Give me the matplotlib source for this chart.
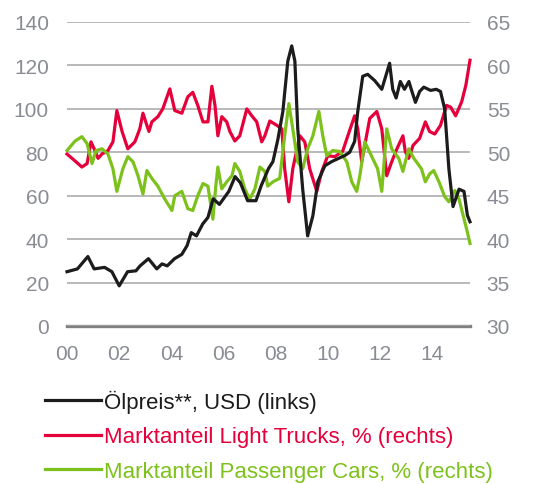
import matplotlib
matplotlib.use("Agg")
import matplotlib.pyplot as plt
import numpy as np

# ---- data (years since Jan 2000) ----
oil_t = [0, 0.40, 0.80, 1.04, 1.44, 1.72, 2.00, 2.32, 2.64, 2.80,
         3.12, 3.44, 3.64, 3.84, 4.12, 4.40, 4.60, 4.76, 4.96, 5.20,
         5.40, 5.60, 5.84, 6.20, 6.44, 6.64, 6.92, 7.24, 7.44, 7.72,
         7.89, 8.08, 8.27, 8.46, 8.61, 8.73, 8.84, 9.03, 9.22, 9.42,
         9.61, 9.88, 10.14, 10.37, 10.64, 10.83, 11.02, 11.14, 11.33, 11.52,
         11.79, 12.06, 12.36, 12.48, 12.61, 12.77, 12.93, 13.10, 13.19, 13.35,
         13.51, 13.67, 13.93, 14.15, 14.31, 14.47, 14.63, 14.79, 15.02, 15.21,
         15.34, 15.44]
oil = [25, 26.3, 32, 26.3, 27, 25, 18.5, 25, 25.4, 27.7,
       31, 26.3, 28.6, 27.7, 31, 33, 37, 43, 41.5, 47,
       50, 58.6, 56, 62, 68.8, 66, 57.7, 57.7, 64.6, 72.5,
       75.7, 86, 98.8, 122, 129, 122, 91, 63, 41.5, 50.8,
       66.5, 73.8, 75.7, 77, 78.5, 80, 85, 98.8, 115, 115.9,
       113, 109, 121, 109, 105, 112.6, 109, 112.6, 109, 103,
       108, 110, 108.5, 109, 108, 100, 72.5, 55, 63, 62,
       51, 48]

truck_t = [0.0, 0.31, 0.57, 0.77, 0.92, 1.07, 1.19, 1.34, 1.57, 1.76,
           1.91, 2.11, 2.33, 2.60, 2.79, 2.91, 3.06, 3.14, 3.25, 3.48,
           3.67, 3.94, 4.13, 4.40, 4.63, 4.82, 5.01, 5.21, 5.40, 5.55,
           5.67, 5.78, 5.93, 6.12, 6.24, 6.43, 6.62, 6.89, 7.08, 7.27,
           7.46, 7.58, 7.77, 8.04, 8.23, 8.34, 8.50, 8.65, 8.92, 9.11,
           9.30, 9.57, 9.76, 9.99, 10.26, 10.56, 10.76, 11.02, 11.14, 11.29,
           11.60, 11.87, 12.06, 12.25, 12.44, 12.64, 12.87, 12.96, 13.09, 13.26,
           13.51, 13.73, 13.89, 14.09, 14.31, 14.54, 14.70, 14.89, 15.12, 15.28, 15.44]
trucks = [49.8, 49, 48.3, 48.7, 51.2, 50.2, 49.3, 49.8, 50.2, 51.2,
          54.8, 52.4, 50.4, 51.2, 52.7, 54.5, 53.1, 52.4, 53.5, 54.1,
          55, 57.3, 54.8, 54.5, 56.4, 56.9, 55.4, 53.5, 53.5, 57.6,
          55.4, 51.9, 54.1, 53.5, 52.4, 51.3, 51.9, 55, 54.2, 53.5,
          51.2, 51.9, 53.6, 53.1, 52.7, 48.1, 44.3, 48.1, 51.9, 51.2,
          48.1, 45.5, 47.8, 49.6, 49.5, 50.1, 51.9, 54.2, 52.7, 48.9,
          53.9, 54.7, 52.7, 47.3, 48.9, 50.4, 51.9, 50.1, 49.3, 50.8,
          51.6, 53.5, 52.4, 52.1, 53.1, 55.4, 55.2, 54.2, 55.8, 57.7, 60.6]

car_t = [0.0, 0.31, 0.57, 0.77, 0.96, 1.11, 1.34, 1.57, 1.76, 1.91,
         2.14, 2.33, 2.53, 2.72, 2.91, 3.06, 3.25, 3.48, 3.75, 4.02,
         4.13, 4.40, 4.63, 4.82, 5.01, 5.21, 5.40, 5.59, 5.70, 5.78,
         5.93, 6.12, 6.32, 6.43, 6.62, 6.81, 7.00, 7.20, 7.39, 7.58,
         7.69, 7.89, 8.15, 8.34, 8.50, 8.65, 8.84, 9.03, 9.22, 9.42,
         9.65, 9.80, 9.95, 10.18, 10.45, 10.72, 10.91, 11.10, 11.22, 11.41,
         11.71, 11.90, 12.06, 12.25, 12.44, 12.71, 12.87, 13.09, 13.29, 13.58,
         13.73, 13.89, 14.05, 14.25, 14.47, 14.63, 14.86, 15.02, 15.18, 15.34, 15.44]
cars = [50.2, 51.3, 51.8, 51, 48.7, 50.2, 50.4, 49.8, 48.1, 45.5,
        48.1, 49.5, 48.9, 47.3, 45.2, 47.9, 47, 46.1, 44.6, 43.3,
        45, 45.5, 43.5, 43.3, 45, 46.4, 46.1, 42.3, 46.1, 48.3,
        45.8, 46.6, 47.3, 48.7, 47.8, 45.8, 44.6, 45.8, 48.3, 47.8,
        46.1, 46.6, 47, 51.9, 55.6, 52.7, 48.9, 48.1, 50.4, 51.9,
        54.7, 51.9, 49.6, 50.2, 50.1, 48.9, 46.6, 45.5, 47.3, 51.2,
        49.3, 48.1, 45.5, 52.7, 50.4, 49.3, 47.8, 50.4, 49.3, 48.1,
        46.6, 47.5, 47.9, 46.6, 44.9, 44.3, 45.6, 44.6, 42.7, 40.8, 39.5]

x_ticks = [0, 2, 4, 6, 8, 10, 12, 14]
x_labels = ["00", "02", "04", "06", "08", "10", "12", "14"]
left_ticks = [0, 20, 40, 60, 80, 100, 120, 140]
right_ticks = [30, 35, 40, 45, 50, 55, 60, 65]

labels = ["Ölpreis**, USD (links)",
          "Marktanteil Light Trucks, % (rechts)",
          "Marktanteil Passenger Cars, % (rechts)"]

# ---- style ----
plt.rcParams['font.family'] = ['Liberation Sans', 'DejaVu Sans']
C_BLACK = "#1c1c1c"
C_RED = "#e5003c"
C_GREEN = "#7dc11c"
C_TICK = "#8a8c94"
C_GRID = "#a6a6a6"

fig = plt.figure(figsize=(5.44, 4.85), dpi=100)
ax = fig.add_axes([67 / 544, 158 / 485, 403 / 544, 304 / 485])
ax2 = ax.twinx()

# right axis (market shares) on the primary axes
ax.set_xlim(0, max(oil_t))
ax.set_ylim(30, 65)
ax.set_yticks(right_ticks)
ax.set_xticks(x_ticks)
ax.set_xticklabels(x_labels)
ax.yaxis.tick_right()
ax.yaxis.set_label_position('right')
ax.grid(axis='y', color=C_GRID, lw=1.1, zorder=0)
ax.axhline(30, color="#808080", lw=2.4, zorder=1, clip_on=False)
for s in ax.spines.values():
    s.set_visible(False)
ax.tick_params(axis='both', length=0, labelsize=15, labelcolor=C_TICK)
ax.tick_params(axis='y', pad=12)
ax.tick_params(axis='x', pad=13)

l_red, = ax.plot(truck_t, trucks, color=C_RED, lw=2.3, zorder=3, clip_on=False,
                 solid_joinstyle='round')
l_green, = ax.plot(car_t, cars, color=C_GREEN, lw=2.3, zorder=4, clip_on=False,
                   solid_joinstyle='round')

# left axis (oil price) on the twin
ax2.set_ylim(0, 140)
ax2.set_yticks(left_ticks)
ax2.yaxis.tick_left()
ax2.yaxis.set_label_position('left')
for s in ax2.spines.values():
    s.set_visible(False)
ax2.tick_params(axis='y', length=0, labelsize=15, labelcolor=C_TICK, pad=13)
l_black, = ax2.plot(oil_t, oil, color=C_BLACK, lw=2.3, zorder=5, clip_on=False,
                    solid_joinstyle='round')

fig.legend([l_black, l_red, l_green], labels, loc='upper left',
           bbox_to_anchor=(45 / 544, (485 - 391) / 485), frameon=False,
           fontsize=16, handlelength=2.5, handletextpad=0.15,
           labelspacing=0.6, borderpad=0, borderaxespad=0,
           labelcolor='linecolor')

fig.savefig("out.png", dpi=100)
